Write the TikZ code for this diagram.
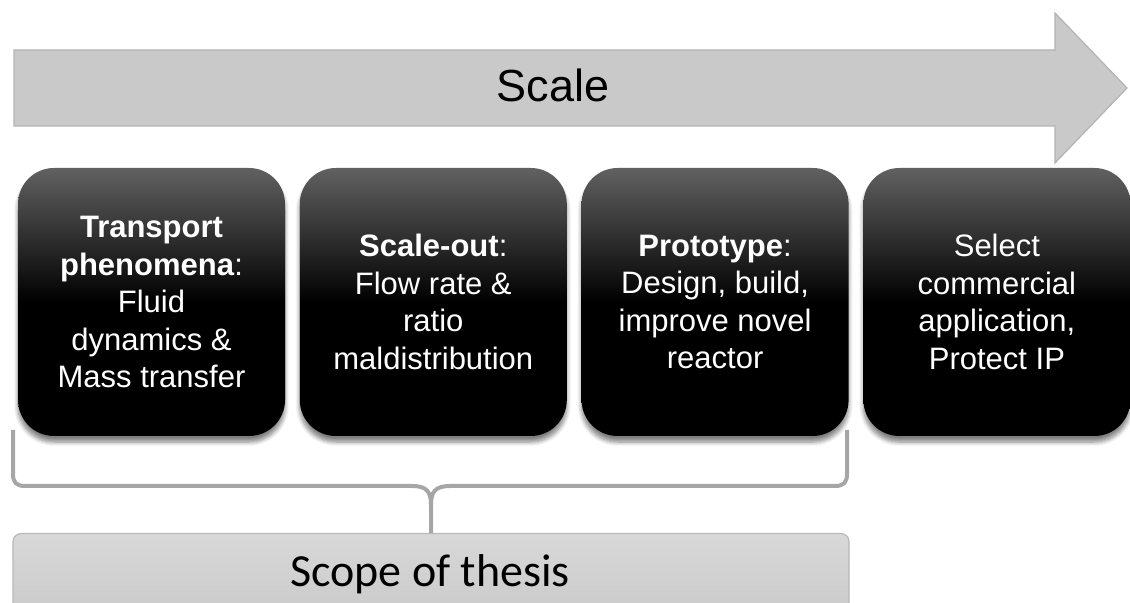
\documentclass[tikz,border=0pt]{standalone}
\usepackage{fontspec}
\setmainfont{Liberation Sans}
\newfontfamily\scopefont{Carlito}
\usetikzlibrary{positioning,shadows.blur}

\definecolor{arrowgray}{HTML}{C9C9C9}
\definecolor{arrowedge}{HTML}{B3B3B3}
\definecolor{bracegray}{HTML}{A6A6A6}
\definecolor{bartop}{HTML}{D8D8D8}
\definecolor{barbottom}{HTML}{C4C4C4}

\begin{document}
\begin{tikzpicture}[x=0.5pt,y=-0.5pt,
    scalearrow/.style={fill=arrowgray, draw=arrowedge, line width=0.6pt},
    scalelabel/.style={font=\fontsize{22.5}{27}\selectfont, inner sep=0pt},
    stage/.style={rectangle, rounded corners=18pt, minimum width=133.5pt, minimum height=134pt,
        inner sep=0pt, top color=black!62, bottom color=black, middle color=black,
        text=white, align=center, font=\fontsize{15.5}{18.75}\selectfont,
        blur shadow={shadow xshift=0pt, shadow yshift=-3pt, shadow blur steps=6, shadow opacity=50}},
    brace/.style={draw=bracegray, line width=2pt},
    scopebar/.style={rectangle, rounded corners=4pt, minimum width=418pt, minimum height=60pt,
        top color=bartop, bottom color=barbottom, draw=bracegray!80, line width=0.6pt},
    scopelabel/.style={font=\scopefont\fontsize{23}{27}\selectfont, inner sep=0pt}]

    \useasboundingbox (0,0) rectangle (1130,603);
    \clip (0,0) rectangle (1130,603);

    % big arrow along the top
    \draw[scalearrow] (14,50) -- (1055,50) -- (1055,13) -- (1127,88) -- (1055,163) -- (1055,126) -- (14,126) -- cycle;
    \node[scalelabel, anchor=base] (scale) at (553,102) {Scale};

    % curly brace over the first three stages
    \coordinate (stem) at (431,533);
    \draw[brace] (13,430) -- (13,474) .. controls (13,482) and (16,486) .. (25,486) -- (412,486)
        .. controls (427,486) and (431,492) .. (431,505) -- (stem);
    \draw[brace] (847,430) -- (847,474) .. controls (847,482) and (844,486) .. (835,486) -- (450,486)
        .. controls (435,486) and (431,492) .. (431,505);

    % the four stages
    \node[stage] (transport) at (151.5,302) {\textbf{Transport}\\\textbf{phenomena}:\\Fluid\\dynamics \&\\Mass transfer};
    \node[stage, right=7pt of transport] (scaleout) {\textbf{Scale-out}:\\Flow rate \&\\ratio\\maldistribution};
    \node[stage, right=7pt of scaleout] (prototype) {\textbf{Prototype}:\\Design, build,\\improve novel\\reactor};
    \node[stage, right=7pt of prototype] (commercial) {Select\\commercial\\application,\\Protect IP};

    % bar at the bottom
    \node[scopebar, anchor=north] (bar) at (stem) {};
    \node[scopelabel, anchor=base] (scope) at (430,587) {Scope of thesis};
\end{tikzpicture}
\end{document}
